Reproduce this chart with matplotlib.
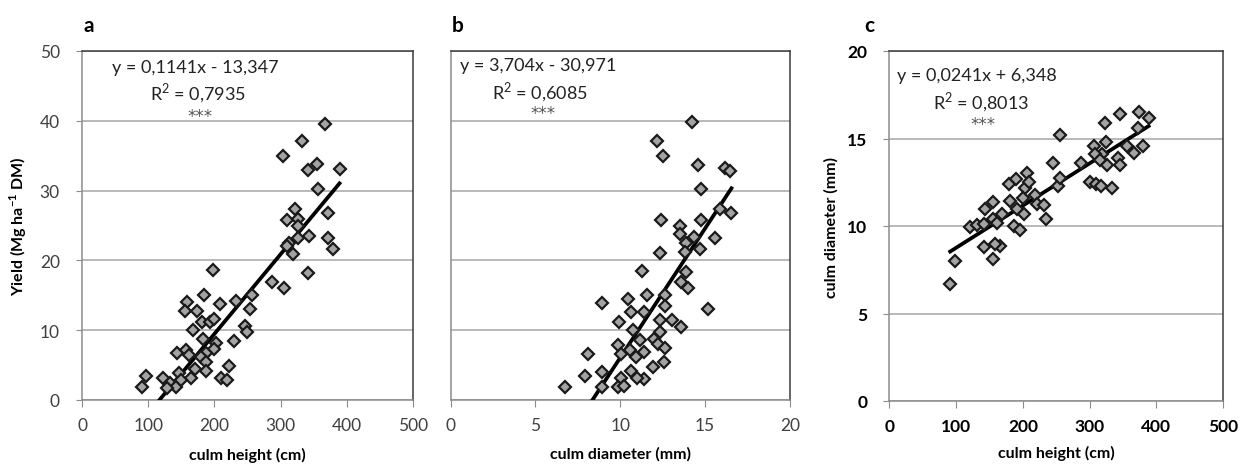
"""
Yield vs culm traits - three scatter panels with linear fits
"""
import numpy as np
import matplotlib.pyplot as plt

plt.rcParams['font.family'] = ['Lato', 'DejaVu Sans']
plt.rcParams['mathtext.fontset'] = 'custom'
plt.rcParams['mathtext.rm'] = 'Lato'
plt.rcParams['mathtext.bf'] = 'Lato:bold'
plt.rcParams['axes.unicode_minus'] = False

# panel a: culm height (cm) vs yield
a_x = [367, 332, 303, 355, 342, 389, 356, 322, 372, 309, 326, 326, 343, 327, 372, 379,
       312, 318, 310, 341, 198, 287, 305, 257, 232, 184, 158, 156, 174, 209, 254, 182,
       194, 199, 167, 246, 249, 229, 183, 203, 200, 188, 143, 157, 162, 180, 188, 222,
       170, 188, 147, 165, 210, 219, 123, 97, 90, 133, 142, 128, 150]
a_y = [39.6, 37.1, 34.9, 33.8, 32.9, 33.1, 30.2, 27.4, 26.8, 25.8, 25.9, 25.0, 23.5, 23.2,
       23.2, 21.6, 22.5, 20.9, 22.0, 18.2, 18.6, 16.9, 16.1, 15.0, 14.2, 15.0, 14.0, 12.7,
       12.7, 13.8, 13.0, 11.2, 11.2, 11.6, 10.1, 10.6, 9.7, 8.4, 8.7, 8.2, 7.3, 6.8, 6.8,
       7.2, 6.4, 6.1, 5.5, 4.8, 4.4, 4.1, 3.9, 3.1, 3.1, 2.8, 3.2, 3.5, 1.8, 2.5, 1.8, 1.7, 2.8]

# panel b: culm diameter (mm) vs yield
b_x = [14.2, 12.15, 12.5, 14.6, 16.2, 16.45, 14.75, 15.9, 16.55, 12.4, 14.75, 13.5, 13.5,
       14.35, 13.9, 15.6, 14.7, 13.8, 12.35, 11.3, 13.9, 13.6, 14.0, 11.55, 12.65, 10.45,
       8.95, 12.65, 10.65, 11.4, 15.15, 9.9, 12.35, 13.05, 13.6, 10.75, 12.35, 12.0, 11.15,
       9.85, 12.2, 12.65, 10.55, 11.4, 10.9, 8.1, 10.05, 12.6, 11.9, 7.95, 8.95, 10.65,
       10.05, 11.4, 11.0, 8.9, 6.75, 9.85, 10.2]
b_y = [39.8, 37.1, 34.9, 33.7, 33.3, 32.8, 30.2, 27.4, 26.8, 25.8, 25.8, 25.0, 23.8, 23.3,
       22.5, 23.2, 21.6, 21.2, 21.0, 18.5, 18.3, 16.9, 16.1, 15.0, 15.0, 14.4, 13.9, 13.5,
       12.6, 12.6, 13.0, 11.2, 11.4, 11.4, 10.4, 10.1, 9.7, 8.7, 8.6, 7.9, 8.0, 7.4, 7.2,
       6.9, 6.1, 6.6, 6.6, 5.5, 4.7, 3.5, 4.0, 4.2, 3.1, 3.0, 3.2, 1.8, 1.9, 1.8, 2.0]

# panel c: culm height (cm) vs culm diameter (mm)
c_x = [91, 98.5, 142, 155, 166, 158.5, 121, 131, 142, 143.5, 155, 155, 161, 168.5, 181,
       178.5, 190, 186, 195, 191, 201, 203.5, 206, 208.5, 200, 218.5, 221, 231, 235, 245,
       256, 252, 255, 287, 301, 310, 317, 333.5, 306, 318.5, 325, 323.5, 326, 342, 345,
       346, 356, 367, 380, 373.5, 372, 388.5, 308.5, 316]
c_y = [6.67, 8.0, 8.8, 8.1, 8.86, 9.0, 9.96, 10.04, 10.1, 11.0, 11.4, 10.4, 10.15, 10.67,
       11.43, 12.4, 12.67, 10.0, 9.8, 10.95, 10.67, 12.2, 13.05, 12.5, 11.6, 11.8, 11.24,
       11.18, 10.4, 13.6, 15.2, 12.3, 12.76, 13.6, 12.5, 12.4, 12.3, 12.2, 14.6, 14.1, 14.8,
       15.9, 13.5, 13.9, 13.5, 16.4, 14.6, 14.2, 14.6, 16.5, 15.6, 16.2, 14.1, 13.8]

# regression coefficients as printed on the chart
fits = {'a': (0.1141, -13.347), 'b': (3.704, -30.971), 'c': (0.0241, 6.348)}
eq_text = {'a': ('y = 0,1141x - 13,347', 'R$^2$ = 0,7935'),
           'b': ('y = 3,704x - 30,971', 'R$^2$ = 0,6085'),
           'c': ('y = 0,0241x + 6,348', 'R$^2$ = 0,8013')}

W, H = 1249, 477
fig = plt.figure(figsize=(W / 100, H / 100), dpi=100)

def px(l, t, r, b):
    return [l / W, 1 - b / H, (r - l) / W, (b - t) / H]

ax_a = fig.add_axes(px(82, 52, 413, 401))
ax_b = fig.add_axes(px(450.5, 52, 790, 401))
ax_c = fig.add_axes(px(889.5, 52, 1223, 402))

grid_col = '#a6a6a6'
frame_col = '#3a3a3a'

def style(ax, xlim, xticks, ylim, yticks, bold=False):
    ax.set_xlim(*xlim)
    ax.set_ylim(*ylim)
    ax.set_xticks(xticks)
    ax.set_yticks(yticks)
    ax.yaxis.grid(True, color=grid_col, linewidth=1.1)
    ax.set_axisbelow(True)
    for s in ['top', 'right']:
        ax.spines[s].set_color(frame_col)
        ax.spines[s].set_linewidth(1.1)
    for s in ['left', 'bottom']:
        ax.spines[s].set_color('#8c8c8c')
        ax.spines[s].set_linewidth(1.1)
    ax.tick_params(axis='x', direction='out', length=5, color='#8c8c8c', pad=7, labelsize=12.5)
    ax.tick_params(axis='y', direction='out', length=4, color='#8c8c8c', pad=12, labelsize=12.5)
    ax.tick_params(labelcolor='#404040' if not bold else 'black')
    for lab in ax.get_xticklabels() + ax.get_yticklabels():
        if bold:
            lab.set_fontweight('bold')

def scatter_fit(ax, x, y, key):
    m, b = fits[key]
    xs = np.array([min(x), max(x)])
    ax.plot(xs, m * xs + b, color='black', linewidth=2.7, zorder=3)
    ax.plot(x, y, linestyle='none', marker='D', markersize=6.3,
            markerfacecolor='#a3a3a3', markeredgecolor='#1a1a1a', markeredgewidth=1.6, zorder=4)

scatter_fit(ax_a, a_x, a_y, 'a')
scatter_fit(ax_b, b_x, b_y, 'b')
scatter_fit(ax_c, c_x, c_y, 'c')

style(ax_a, (0, 500), range(0, 501, 100), (0, 50), range(0, 51, 10))
style(ax_b, (0, 20), range(0, 21, 5), (0, 50), range(0, 51, 10))
style(ax_c, (0, 500), range(0, 501, 100), (0, 20), range(0, 21, 5), bold=True)
ax_b.set_yticklabels([])
ax_b.tick_params(axis='y', length=0)

ax_a.set_xlabel('culm height (cm)', fontsize=11.5, fontweight='bold', labelpad=10)
ax_b.set_xlabel('culm diameter (mm)', fontsize=11.5, fontweight='bold', labelpad=10)
ax_c.set_xlabel('culm height (cm)', fontsize=11.5, fontweight='bold', labelpad=8)
ax_a.set_ylabel('Yield (Mg ha$^{\\mathbf{-1}}$ DM)', fontsize=11.5, fontweight='bold', labelpad=8)
ax_c.set_ylabel('culm diameter (mm)', fontsize=11.5, fontweight='bold', labelpad=6)

# panel letters
for lbl, xx in [('a', 84), ('b', 452), ('c', 864)]:
    fig.text(xx / W, 1 - 26 / H, lbl, fontsize=15, fontweight='bold', va='center', ha='left')

# equation annotations (pixel positions from the reference)
ann = {'a': (112, 68, 150, 93, 200, 116),
       'b': (460, 66, 492, 92, 543, 113),
       'c': (897, 76, 933, 102, 983, 124)}
for k, (ex, ey, rx, ry, sx, sy) in ann.items():
    e, r = eq_text[k]
    fig.text(ex / W, 1 - ey / H, e, fontsize=13, va='center', ha='left', color='#222222')
    fig.text(rx / W, 1 - ry / H, r, fontsize=13, va='center', ha='left', color='#222222')
    fig.text(sx / W, 1 - (sy + 6) / H, '***', fontsize=12, va='baseline', ha='center',
             color='#555555', family='DejaVu Sans')

fig.savefig('out.png', dpi=100)
